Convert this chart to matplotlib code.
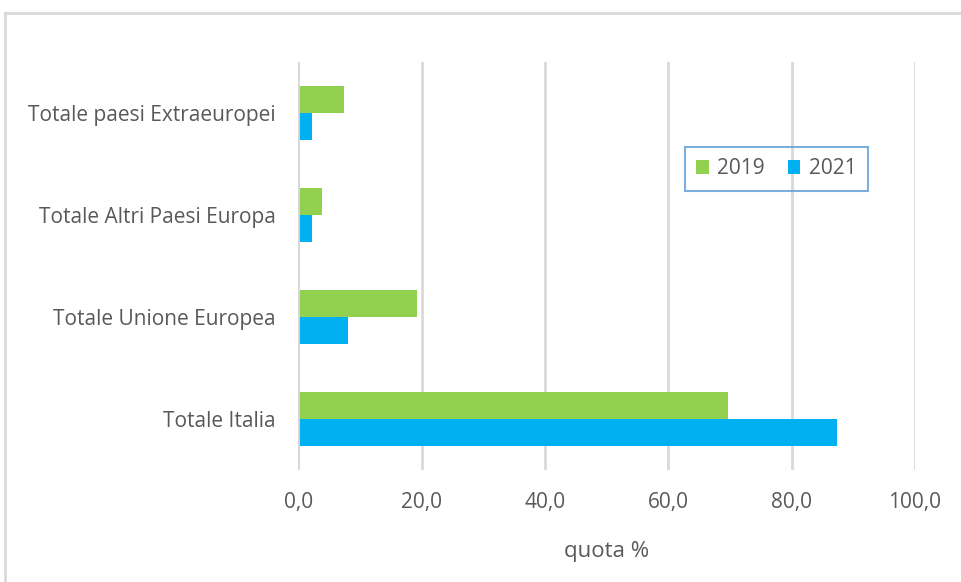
import matplotlib.pyplot as plt
import numpy as np
from matplotlib.lines import Line2D

categories = ["Totale Italia", "Totale Unione Europea",
              "Totale Altri Paesi Europa", "Totale paesi Extraeuropei"]
vals_2019 = [69.7, 19.2, 3.8, 7.5]
vals_2021 = [87.4, 8.1, 2.3, 2.3]
xticks = [0, 20, 40, 60, 80, 100]
xtick_labels = ["0,0", "20,0", "40,0", "60,0", "80,0", "100,0"]

green = "#92D050"
blue = "#00B0F0"
text_col = "#595959"
grid_col = "#D9D9D9"

plt.rcParams['font.family'] = ['Open Sans', 'DejaVu Sans']

fig = plt.figure(figsize=(9.62, 5.82), dpi=100)
ax = fig.add_axes([0.310, 0.1924, 0.641, 0.7011])

y = np.arange(len(categories))
h = 0.26
ax.barh(y + h / 2, vals_2019, height=h, color=green, label="2019", zorder=3)
ax.barh(y - h / 2, vals_2021, height=h, color=blue, label="2021", zorder=3)

ax.set_xlim(0, 100)
ax.set_ylim(-0.5, 3.5)
ax.set_yticks(y)
ax.set_yticklabels(categories, fontsize=15, color=text_col)
ax.set_xticks(xticks)
ax.set_xticklabels(xtick_labels, fontsize=15, color=text_col)
ax.tick_params(axis='both', length=0)
ax.tick_params(axis='y', pad=16)
ax.tick_params(axis='x', pad=16)
ax.xaxis.grid(True, color=grid_col, linewidth=2, zorder=0)
for s in ax.spines.values():
    s.set_visible(False)
ax.axvline(0, color=grid_col, linewidth=2, zorder=4)

ax.set_xlabel("quota %", fontsize=16, color=text_col, labelpad=20)

leg = ax.legend(loc='upper left', bbox_to_anchor=(0.627, 0.792), borderaxespad=0,
                ncol=2, fontsize=15, frameon=True, fancybox=False,
                handlelength=0.6, handleheight=0.6, handletextpad=0.4,
                columnspacing=1.1, borderpad=0.55)
for t in leg.get_texts():
    t.set_color(text_col)
leg.get_frame().set_edgecolor("#5B9BD5")
leg.get_frame().set_facecolor('none')
leg.get_frame().set_linewidth(1.5)

# outer chart border (top and left visible)
fig.add_artist(Line2D([5 / 962, 1.0], [1 - 13 / 582, 1 - 13 / 582],
                      transform=fig.transFigure, color="#D9D9D9", linewidth=2))
fig.add_artist(Line2D([5 / 962, 5 / 962], [1 - 13 / 582, 0.0],
                      transform=fig.transFigure, color="#D9D9D9", linewidth=2))

fig.savefig("out.png", dpi=100)
